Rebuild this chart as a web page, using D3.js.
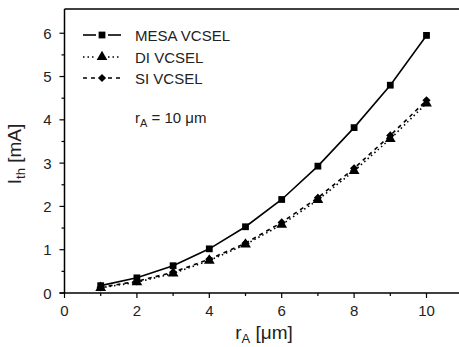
<!DOCTYPE html>
<html>
<head>
<meta charset="utf-8">
<script src="https://cdn.jsdelivr.net/npm/d3@7"></script>
<style>
  body { margin: 0; background: #fff; }
  svg { display: block; font-family: Arial, "Liberation Sans", Helvetica, sans-serif; }
</style>
</head>
<body>
<div id="chart"></div>
<script>
const radii = [1, 2, 3, 4, 5, 6, 7, 8, 9, 10];
const mesaValues = [0.17, 0.35, 0.63, 1.02, 1.53, 2.16, 2.93, 3.82, 4.80, 5.95];
const diValues = [0.12, 0.25, 0.45, 0.75, 1.12, 1.58, 2.15, 2.82, 3.56, 4.38];
const siValues = [0.13, 0.27, 0.48, 0.78, 1.15, 1.63, 2.20, 2.88, 3.64, 4.45];
const xTicks = [0, 2, 4, 6, 8, 10];
const yTicks = [0, 1, 2, 3, 4, 5, 6];
const seriesNames = ['MESA VCSEL', 'DI VCSEL', 'SI VCSEL'];

const width = 459, height = 347;
const svg = d3.select('#chart').append('svg')
  .attr('width', width).attr('height', height);

const x = d3.scaleLinear().domain([0, 11]).range([64.5, 462.7]);
const y = d3.scaleLinear().domain([0, 6.56]).range([293, 9]);

// rot: degrees to turn the symbol (diamond = square turned 45)
const series = [
  { name: seriesNames[0], values: mesaValues, dash: null, symbol: d3.symbolSquare, size: 46, rot: 0 },
  { name: seriesNames[1], values: diValues, dash: '1.5 3', symbol: d3.symbolTriangle, size: 50, rot: 0 },
  { name: seriesNames[2], values: siValues, dash: '4 4', symbol: d3.symbolSquare, size: 34, rot: 45 }
];

// minor ticks every 0.5 on y, every 1 on x
const yMinor = d3.range(0.5, 6.5, 1);
const xMinor = d3.range(1, 11, 2);

const axisG = svg.append('g');

// frame: left, bottom, top
axisG.append('line')
  .attr('x1', x(0)).attr('x2', x(0)).attr('y1', y.range()[1]).attr('y2', y(0))
  .attr('stroke', '#000').attr('stroke-width', 1.5);
axisG.append('line')
  .attr('x1', x(0) - 5).attr('x2', width).attr('y1', y(0)).attr('y2', y(0))
  .attr('stroke', '#000').attr('stroke-width', 1.5);
axisG.append('line')
  .attr('x1', x(0)).attr('x2', width).attr('y1', y.range()[1]).attr('y2', y.range()[1])
  .attr('stroke', '#000').attr('stroke-width', 1.5);

// x ticks
axisG.selectAll('.xmaj').data(xTicks).enter().append('line')
  .attr('x1', d => x(d)).attr('x2', d => x(d)).attr('y1', y(0)).attr('y2', y(0) + 5)
  .attr('stroke', '#000').attr('stroke-width', 1.2);
axisG.selectAll('.xmin').data(xMinor).enter().append('line')
  .attr('x1', d => x(d)).attr('x2', d => x(d)).attr('y1', y(0)).attr('y2', y(0) + 3)
  .attr('stroke', '#000').attr('stroke-width', 1.2);
axisG.selectAll('.xlab').data(xTicks).enter().append('text')
  .attr('x', d => x(d)).attr('y', y(0) + 23)
  .attr('text-anchor', 'middle').attr('font-size', 15).attr('fill', '#222')
  .text(d => d);

// y ticks
axisG.selectAll('.ymaj').data(yTicks).enter().append('line')
  .attr('x1', x(0) - 5).attr('x2', x(0)).attr('y1', d => y(d)).attr('y2', d => y(d))
  .attr('stroke', '#000').attr('stroke-width', 1.2);
axisG.selectAll('.ymin').data(yMinor).enter().append('line')
  .attr('x1', x(0) - 3).attr('x2', x(0)).attr('y1', d => y(d)).attr('y2', d => y(d))
  .attr('stroke', '#000').attr('stroke-width', 1.2);
axisG.selectAll('.ylab').data(yTicks).enter().append('text')
  .attr('x', x(0) - 13).attr('y', d => y(d) + 5.5)
  .attr('text-anchor', 'end').attr('font-size', 15).attr('fill', '#222')
  .text(d => d);

// axis titles
const xTitle = svg.append('text')
  .attr('x', 264).attr('y', 339)
  .attr('text-anchor', 'middle').attr('font-size', 19).attr('fill', '#222');
xTitle.append('tspan').text('r');
xTitle.append('tspan').attr('font-size', 13).attr('dy', 4).text('A');
xTitle.append('tspan').attr('dy', -4).text(' [μm]');

const yTitle = svg.append('text')
  .attr('transform', 'translate(21, 154) rotate(-90)')
  .attr('text-anchor', 'middle').attr('font-size', 19).attr('fill', '#222');
yTitle.append('tspan').text('I');
yTitle.append('tspan').attr('font-size', 13).attr('dy', 4).text('th');
yTitle.append('tspan').attr('dy', -4).text(' [mA]');

// series
const line = d3.line().x(d => x(d[0])).y(d => y(d[1]));
series.forEach(s => {
  const pts = radii.map((r, i) => [r, s.values[i]]);
  svg.append('path')
    .datum(pts)
    .attr('d', line)
    .attr('fill', 'none')
    .attr('stroke', '#000')
    .attr('stroke-width', 1.6)
    .attr('stroke-dasharray', s.dash);
  svg.selectAll(null).data(pts).enter().append('path')
    .attr('transform', d => `translate(${x(d[0])}, ${y(d[1])}) rotate(${s.rot})`)
    .attr('d', d3.symbol().type(s.symbol).size(s.size))
    .attr('fill', '#000');
});

// legend
const legend = svg.append('g');
const rowY = [35, 57, 78];
series.forEach((s, i) => {
  const g = legend.append('g').attr('transform', `translate(0, ${rowY[i]})`);
  g.append('line').attr('x1', 83).attr('x2', 96).attr('y1', 0).attr('y2', 0)
    .attr('stroke', '#000').attr('stroke-width', 1.6).attr('stroke-dasharray', s.dash);
  g.append('line').attr('x1', 108).attr('x2', 121).attr('y1', 0).attr('y2', 0)
    .attr('stroke', '#000').attr('stroke-width', 1.6).attr('stroke-dasharray', s.dash);
  g.append('path').attr('transform', `translate(102, 0) rotate(${s.rot})`)
    .attr('d', d3.symbol().type(s.symbol).size(s.size)).attr('fill', '#000');
  g.append('text').attr('x', 135).attr('y', 5.5)
    .attr('font-size', 15).attr('fill', '#222').text(s.name);
});

const note = svg.append('text').attr('x', 135).attr('y', 123)
  .attr('font-size', 15).attr('fill', '#222');
note.append('tspan').text('r');
note.append('tspan').attr('font-size', 11).attr('dy', 3.5).text('A');
note.append('tspan').attr('dy', -3.5).text(' = 10 μm');
</script>
</body>
</html>
